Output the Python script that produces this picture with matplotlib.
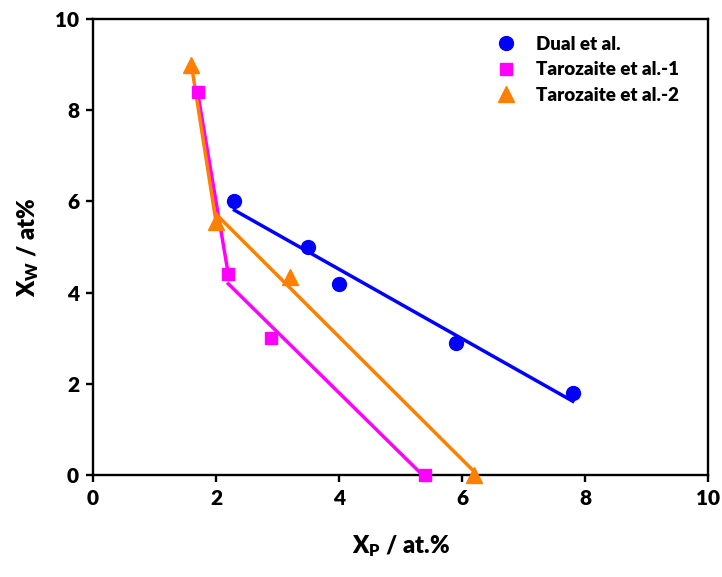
import numpy as np
import matplotlib
matplotlib.use("Agg")
import matplotlib.pyplot as plt

plt.rcParams['font.family'] = ['Lato', 'DejaVu Sans']
plt.rcParams['font.weight'] = 'heavy'
plt.rcParams['mathtext.fontset'] = 'custom'
plt.rcParams['mathtext.rm'] = 'Lato'
plt.rcParams['mathtext.bf'] = 'Lato:heavy'

# Dual et al.
dual_x = [2.3, 3.5, 4.0, 5.9, 7.8]
dual_y = [6.0, 5.0, 4.2, 2.9, 1.8]

# Tarozaite et al. (two data sets)
taro1_x = [1.7, 2.2, 2.9, 5.4]
taro1_y = [8.4, 4.4, 3.0, 0.0]
taro2_x = [1.6, 2.0, 3.2, 6.2]
taro2_y = [9.0, 5.55, 4.35, 0.0]

blue = '#0000FF'
magenta = '#FF00FF'
orange = '#FF8000'


def fit_line(ax, xs, ys, color):
    """Least squares line drawn across the span of the given points."""
    k, b = np.polyfit(xs, ys, 1)
    xx = np.array([min(xs), max(xs)])
    ax.plot(xx, k * xx + b, '-', color=color, lw=2.5, zorder=2)


fig = plt.figure(figsize=(7.22, 5.77), dpi=100)
ax = fig.add_axes([0.1288, 0.1768, 0.852, 0.790])

# steep first segments for the Tarozaite sets
ax.plot(taro1_x[:2], taro1_y[:2], '-', color=magenta, lw=2.5, zorder=2)
ax.plot(taro2_x[:2], taro2_y[:2], '-', color=orange, lw=2.5, zorder=2)

fit_line(ax, dual_x, dual_y, blue)
fit_line(ax, taro1_x[1:], taro1_y[1:], magenta)
fit_line(ax, taro2_x[1:], taro2_y[1:], orange)

ax.plot(dual_x, dual_y, 'o', color=blue, ms=10, ls='none', label='Dual et al.', zorder=3, clip_on=False)
ax.plot(taro1_x, taro1_y, 's', color=magenta, ms=9, ls='none', label='Tarozaite et al.-1', zorder=3, clip_on=False)
ax.plot(taro2_x, taro2_y, '^', color=orange, ms=11, ls='none', label='Tarozaite et al.-2', zorder=3, clip_on=False)

ax.set_xlim(0, 10)
ax.set_ylim(0, 10)
ax.set_xticks(np.arange(0, 11, 2))
ax.set_yticks(np.arange(0, 11, 2))

for s in ax.spines.values():
    s.set_linewidth(1.7)
ax.tick_params(direction='out', length=5, width=1.7, labelsize=15, pad=5)

ax.set_xlabel(r'$\mathbf{X_P}$ / at.%', fontsize=17, fontweight='heavy', labelpad=18)
ax.set_ylabel(r'$\mathbf{X_W}$ / at%', fontsize=17, fontweight='heavy', labelpad=10)

ax.legend(loc='upper right', frameon=False, handletextpad=0.6,
          borderaxespad=0.5, labelspacing=0.45, bbox_to_anchor=(0.98, 1.0),
          prop={'weight': 'heavy', 'size': 13.5})

fig.savefig('out.png', dpi=100)
